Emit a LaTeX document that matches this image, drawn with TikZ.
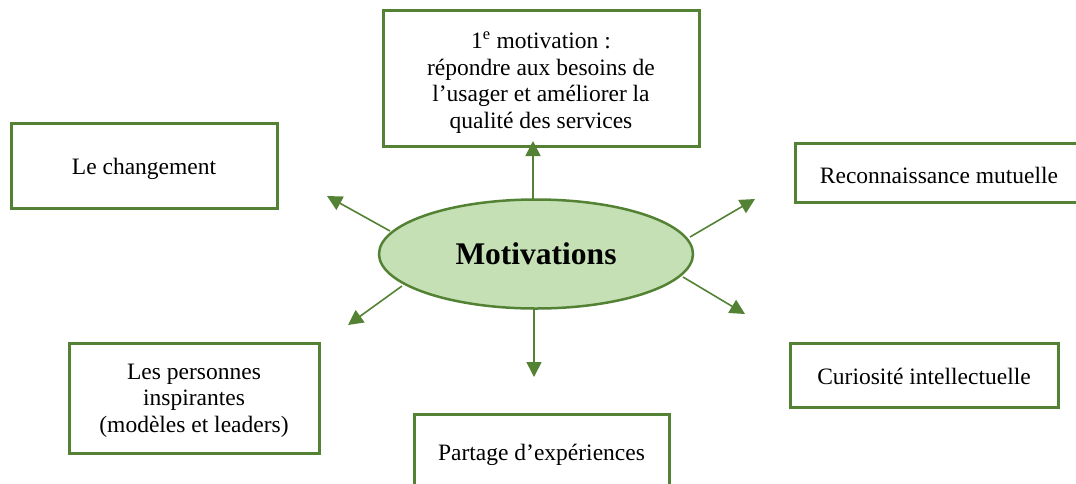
\documentclass[tikz,border=0pt]{standalone}
\usepackage{fontspec}
\setmainfont{Liberation Serif}
\usetikzlibrary{shapes.geometric,arrows.meta}
\definecolor{leaf}{HTML}{548235}
\definecolor{mint}{HTML}{C5E0B4}
\begin{document}
\begin{tikzpicture}[x=1pt,y=-1pt,
  box/.style={draw=leaf, line width=3pt, fill=white, inner sep=0pt},
  lbl/.style={align=center, inner sep=0pt, font=\fontsize{23.5}{26.7}\selectfont},
  hub/.style={ellipse, draw=leaf, line width=2.5pt, fill=mint, inner sep=0pt,
    minimum width=314, minimum height=109, font=\fontsize{31.5}{34}\selectfont\bfseries},
  arr/.style={draw=leaf, line width=1.6pt, -{Triangle[length=15pt,width=15pt]}},
]
\clip (0,0) rectangle (1076,483);

% central idea
\node[hub] (hub) at (536,254) {Motivations};

% surrounding boxes
\node[box, minimum width=316, minimum height=136] (first)  at (541,78) {};
\node[box, minimum width=266, minimum height=85]  (change) at (144,165.5) {};
\node[box, minimum width=288, minimum height=59]  (recon)  at (939,172.5) {};
\node[box, minimum width=268, minimum height=64]  (curio)  at (924,375) {};
\node[box, minimum width=250, minimum height=110] (people) at (194,398) {};
\node[box, minimum width=255, minimum height=76]  (share)  at (541.5,452) {};

% box texts, set a little below the box centres
\node[lbl] (firstText) at ([yshift=-4.5pt]first.center)
  {1\textsuperscript{e} motivation :\\ répondre aux besoins de\\ l’usager et améliorer la\\ qualité des services};
\node[lbl] (changeText) at ([yshift=-3pt]change.center) {Le changement};
\node[lbl] (reconText)  at ([yshift=-2.5pt]recon.center) {Reconnaissance mutuelle};
\node[lbl] (curioText)  at ([yshift=-1.5pt]curio.center) {Curiosité intellectuelle};
\node[lbl] (peopleText) at ([yshift=-2.5pt]people.center)
  {Les personnes\\ inspirantes\\ (modèles et leaders)};
\node[lbl] (shareText)  at ([yshift=-3pt]share.center) {Partage d’expériences};

% arrow ends
\coordinate (sU)  at (533,199);  \coordinate (tU)  at (533,141);
\coordinate (sUL) at (390,231);  \coordinate (tUL) at (327,196);
\coordinate (sUR) at (690,237);  \coordinate (tUR) at (755,199);
\coordinate (sDL) at (402,286);  \coordinate (tDL) at (348,325);
\coordinate (sDR) at (683,277);  \coordinate (tDR) at (745,314);
\coordinate (sD)  at (534,309);  \coordinate (tD)  at (534,377);

\draw[arr] (sU) -- (tU);
\draw[arr] (sUL) -- (tUL);
\draw[arr] (sUR) -- (tUR);
\draw[arr] (sDL) -- (tDL);
\draw[arr] (sDR) -- (tDR);
\draw[arr] (sD) -- (tD);
\end{tikzpicture}
\end{document}
